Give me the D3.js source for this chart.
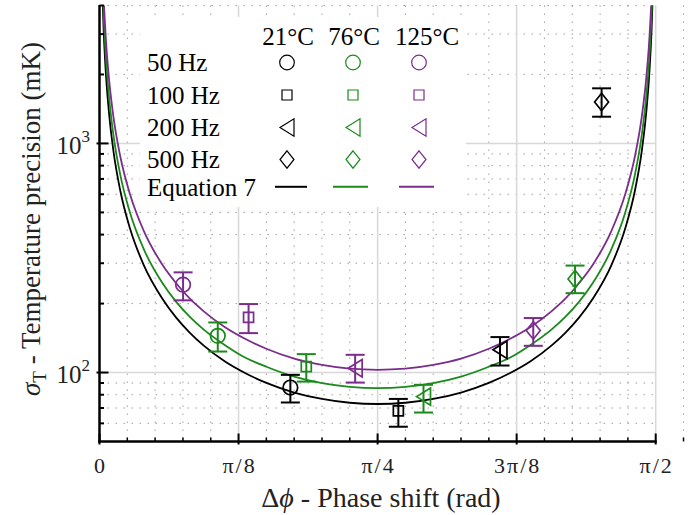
<!DOCTYPE html>
<html>
<head>
<meta charset="utf-8">
<script src="https://cdn.jsdelivr.net/npm/d3@7"></script>
<style>
  html, body { margin: 0; padding: 0; background: #fff; overflow: hidden; }
  svg { display: block; overflow: hidden; font-family: "Liberation Serif", "Times New Roman", serif; }
</style>
</head>
<body>
<svg id="chart" width="689" height="515"></svg>
<script>
// ---------------- data ----------------
const freqLabels = ["50 Hz", "100 Hz", "200 Hz", "500 Hz"];
const tempLabels = ["21°C", "76°C", "125°C"];
const tempColors = ["#000000", "#1a8a1a", "#7b2d8c"];
const markerShapes = ["circle", "square", "triangle", "diamond"];

// measured points (phase in rad, sigma in mK) per temperature, ordered 50/100/200/500 Hz
const phase21  = [0.539, 0.844, 1.131, 1.418];
const sigma21  = [86.0, 68.0, 125.7, 1516];
const lo21     = [74.0, 58.0, 107.3, 1308];
const hi21     = [97.7, 76.7, 142.8, 1740];

const phase76  = [0.334, 0.584, 0.915, 1.343];
const sigma76  = [144.6, 106.2, 78.5, 256];
const lo76     = [123.5, 91.3, 66.9, 222];
const hi76     = [165.4, 120.3, 88.4, 293];

const phase125 = [0.236, 0.421, 0.722, 1.225];
const sigma125 = [241.8, 174.0, 104.5, 152.6];
const lo125    = [206.6, 148.6, 90.4, 130.8];
const hi125    = [273.7, 199.0, 119.5, 172.9];

// Equation 7 curves
const curvePhase = [0.00785, 0.01178, 0.01767, 0.02749, 0.03927, 0.05890, 0.08639, 0.12566, 0.17671,
  0.21598, 0.25525, 0.29452, 0.35343, 0.41233, 0.47124, 0.54978, 0.62832, 0.70686, 0.78540,
  0.86394, 0.94248, 1.02102, 1.09956, 1.15846, 1.21737, 1.27627, 1.31554, 1.35481, 1.39408,
  1.44513, 1.48440, 1.51189, 1.53153, 1.54331, 1.55313, 1.55902, 1.56295];
const curve21 = [4641, 3094, 2063, 1327, 929, 620, 424, 293, 211, 174, 149, 131, 112, 99.3, 90.1, 81.8, 76.7, 73.8, 72.9,
  73.8, 76.7, 81.8, 90.1, 99.3, 112, 131, 149, 174, 211, 293, 424, 620, 929, 1327, 2063, 3094, 4641];
const curve76 = [5443, 3629, 2420, 1556, 1090, 727, 497, 344, 247, 204, 175, 154, 132, 116, 106, 96.0, 89.9, 86.6, 85.5,
  86.6, 89.9, 96.0, 106, 116, 132, 154, 175, 204, 247, 344, 497, 727, 1090, 1556, 2420, 3629, 5443];
const curve125 = [6545, 4363, 2909, 1871, 1310, 875, 598, 413, 297, 246, 210, 185, 158, 140, 127, 115, 108, 104, 102.8,
  104, 108, 115, 127, 140, 158, 185, 210, 246, 297, 413, 598, 875, 1310, 1871, 2909, 4363, 6545];

// axis ticks
const xTickValues = [0, Math.PI / 8, Math.PI / 4, 3 * Math.PI / 8, Math.PI / 2];
const xTickLabels = ["0", "π/8", "π/4", "3π/8", "π/2"];
const xMinorSteps = 40; // minor grid every π/40
const yMajorValues = [100, 1000];
const yMajorExp = ["2", "3"];
const yMinorValues = [60, 70, 80, 90, 200, 300, 400, 500, 600, 700, 800, 900, 2000, 3000, 4000];

// ---------------- layout ----------------
const plot = { left: 99.5, right: 655.7, top: 5.5, bottom: 441.5 };
const svg = d3.select("#chart");
const x = d3.scaleLinear().domain([0, Math.PI / 2]).range([plot.left, plot.right]);
const y = d3.scaleLog().domain([50, 4000]).range([plot.bottom, plot.top]);

const series = [
  { phase: phase21, sigma: sigma21, lo: lo21, hi: hi21, curve: curve21, color: tempColors[0] },
  { phase: phase76, sigma: sigma76, lo: lo76, hi: hi76, curve: curve76, color: tempColors[1] },
  { phase: phase125, sigma: sigma125, lo: lo125, hi: hi125, curve: curve125, color: tempColors[2] }
];

// ---------------- grid ----------------
const grid = svg.append("g");
const xMinor = d3.range(1, xMinorSteps).filter(k => k % 5 !== 0).map(k => k * Math.PI / xMinorSteps);
grid.selectAll(".gxm").data(xMinor).join("line")
  .attr("x1", d => x(d)).attr("x2", d => x(d))
  .attr("y1", plot.top).attr("y2", plot.bottom)
  .attr("stroke", "#a0a0a0").attr("stroke-width", 1).attr("stroke-dasharray", "1.5 6.5");
grid.selectAll(".gym").data(yMinorValues).join("line")
  .attr("x1", plot.left).attr("x2", plot.right)
  .attr("y1", d => y(d)).attr("y2", d => y(d))
  .attr("stroke", "#a0a0a0").attr("stroke-width", 1).attr("stroke-dasharray", "1.5 6.5");
grid.selectAll(".gxM").data(xTickValues.slice(1)).join("line")
  .attr("x1", d => x(d)).attr("x2", d => x(d))
  .attr("y1", plot.top).attr("y2", plot.bottom)
  .attr("stroke", "#d8d8d8").attr("stroke-width", 1.5);
grid.selectAll(".gyM").data(yMajorValues).join("line")
  .attr("x1", plot.left).attr("x2", plot.right)
  .attr("y1", d => y(d)).attr("y2", d => y(d))
  .attr("stroke", "#d8d8d8").attr("stroke-width", 1.5);

// legend background
svg.append("rect").attr("x", 140).attr("y", 17).attr("width", 326).attr("height", 190).attr("fill", "#fff");

// ---------------- curves ----------------
svg.append("clipPath").attr("id", "clip").append("rect")
  .attr("x", plot.left).attr("y", plot.top)
  .attr("width", plot.right - plot.left).attr("height", plot.bottom - plot.top);
const line = d3.line().x(d => x(d[0])).y(d => y(d[1])).curve(d3.curveMonotoneX);
const curves = svg.append("g").attr("clip-path", "url(#clip)");
series.forEach(s => {
  curves.append("path")
    .attr("d", line(curvePhase.map((p, i) => [p, s.curve[i]])))
    .attr("fill", "none").attr("stroke", s.color).attr("stroke-width", 1.8);
});

// ---------------- markers ----------------
function markerPath(shape, cx, cy, scale) {
  const k = scale || 1;
  if (shape === "circle") {
    const r = 7.3 * k;
    return `M${cx + r},${cy}A${r},${r} 0 1,1 ${cx - r},${cy}A${r},${r} 0 1,1 ${cx + r},${cy}Z`;
  }
  if (shape === "square") {
    const h = 5 * k;
    return `M${cx - h},${cy - h}H${cx + h}V${cy + h}H${cx - h}Z`;
  }
  if (shape === "triangle") {
    const w = 7 * k, h = 8.7 * k;
    return `M${cx - w},${cy}L${cx + w},${cy - h}L${cx + w},${cy + h}Z`;
  }
  const w = 7 * k, h = 8.7 * k;
  return `M${cx},${cy - h}L${cx + w},${cy}L${cx},${cy + h}L${cx - w},${cy}Z`;
}

const pts = svg.append("g");
series.forEach(s => {
  s.phase.forEach((p, i) => {
    const cx = x(p);
    const cap = 9.5;
    const g = pts.append("g").attr("stroke", s.color).attr("stroke-width", 2).attr("fill", "none");
    g.append("line").attr("x1", cx).attr("x2", cx).attr("y1", y(s.lo[i])).attr("y2", y(s.hi[i]));
    g.append("line").attr("x1", cx - cap).attr("x2", cx + cap).attr("y1", y(s.lo[i])).attr("y2", y(s.lo[i]));
    g.append("line").attr("x1", cx - cap).attr("x2", cx + cap).attr("y1", y(s.hi[i])).attr("y2", y(s.hi[i]));
    g.append("path").attr("d", markerPath(markerShapes[i], cx, y(s.sigma[i]), 1)).attr("stroke-width", 1.7);
  });
});

// ---------------- axes ----------------
const ax = svg.append("g").attr("stroke", "#000");
ax.append("line").attr("x1", plot.left).attr("x2", plot.left).attr("y1", plot.top - 0.5).attr("y2", plot.bottom + 1.2).attr("stroke-width", 2.5);
ax.append("line").attr("x1", plot.left - 1.2).attr("x2", plot.right + 1).attr("y1", plot.bottom).attr("y2", plot.bottom).attr("stroke-width", 2.5);
ax.selectAll(".ytM").data(yMajorValues).join("line")
  .attr("x1", plot.left - 3).attr("x2", plot.left + 9).attr("y1", d => y(d)).attr("y2", d => y(d)).attr("stroke-width", 2);
ax.selectAll(".ytm").data(yMinorValues).join("line")
  .attr("x1", plot.left).attr("x2", plot.left + 4.5).attr("y1", d => y(d)).attr("y2", d => y(d)).attr("stroke-width", 2);
ax.selectAll(".xtM").data(xTickValues).join("line")
  .attr("x1", d => x(d)).attr("x2", d => x(d)).attr("y1", plot.bottom + 3).attr("y2", plot.bottom - 8).attr("stroke-width", 2);
ax.selectAll(".xtm").data(xMinor).join("line")
  .attr("x1", d => x(d)).attr("x2", d => x(d)).attr("y1", plot.bottom).attr("y2", plot.bottom - 4).attr("stroke-width", 1.5);

// tick labels
svg.selectAll(".xtl").data(xTickValues).join("text")
  .attr("x", d => x(d) + 1).attr("y", 473).attr("text-anchor", "middle")
  .attr("font-size", 22).attr("letter-spacing", 2).attr("fill", "#222")
  .text((d, i) => xTickLabels[i]);
yMajorValues.forEach((v, i) => {
  const t = svg.append("text").attr("x", 90).attr("y", y(v) + 10.5).attr("text-anchor", "end")
    .attr("font-size", 25).attr("fill", "#222");
  t.append("tspan").text("10");
  t.append("tspan").attr("dy", -12).attr("font-size", 17).text(yMajorExp[i]);
});

// axis titles
const xl = svg.append("text").attr("x", 381).attr("y", 507).attr("text-anchor", "middle")
  .attr("font-size", 28).attr("fill", "#222");
xl.append("tspan").text("Δ");
xl.append("tspan").attr("font-style", "italic").text("ϕ");
xl.append("tspan").text(" - Phase shift (rad)");

const yl = svg.append("text").attr("transform", "translate(40,219) rotate(-90)")
  .attr("text-anchor", "middle").attr("font-size", 27).attr("fill", "#222");
yl.append("tspan").attr("font-style", "italic").text("σ");
yl.append("tspan").attr("dy", 6).attr("font-size", 19).text("T");
yl.append("tspan").attr("dy", -6).text(" - Temperature precision (mK)");

// ---------------- legend ----------------
const lg = svg.append("g");
const colX = [287, 353, 419];
const headX = [288, 354, 427];
const rowY = [62.5, 95, 127.5, 159.5];
const eqY = 186.8;
tempLabels.forEach((t, j) => {
  lg.append("text").attr("x", headX[j]).attr("y", 45).attr("text-anchor", "middle")
    .attr("font-size", 25).attr("fill", "#000").text(t);
});
freqLabels.forEach((f, i) => {
  lg.append("text").attr("x", 147).attr("y", rowY[i] + 8.5).attr("font-size", 25).attr("fill", "#000").text(f);
  tempColors.forEach((c, j) => {
    lg.append("path").attr("d", markerPath(markerShapes[i], colX[j], rowY[i], 1))
      .attr("fill", "none").attr("stroke", c).attr("stroke-width", 1.2);
  });
});
lg.append("text").attr("x", 147).attr("y", eqY + 9.5).attr("font-size", 25).attr("fill", "#000").text("Equation 7");
const lineX = [[275, 307], [333, 368], [399, 434]];
tempColors.forEach((c, j) => {
  lg.append("line").attr("x1", lineX[j][0]).attr("x2", lineX[j][1]).attr("y1", eqY).attr("y2", eqY)
    .attr("stroke", c).attr("stroke-width", 2);
});
</script>
</body>
</html>
